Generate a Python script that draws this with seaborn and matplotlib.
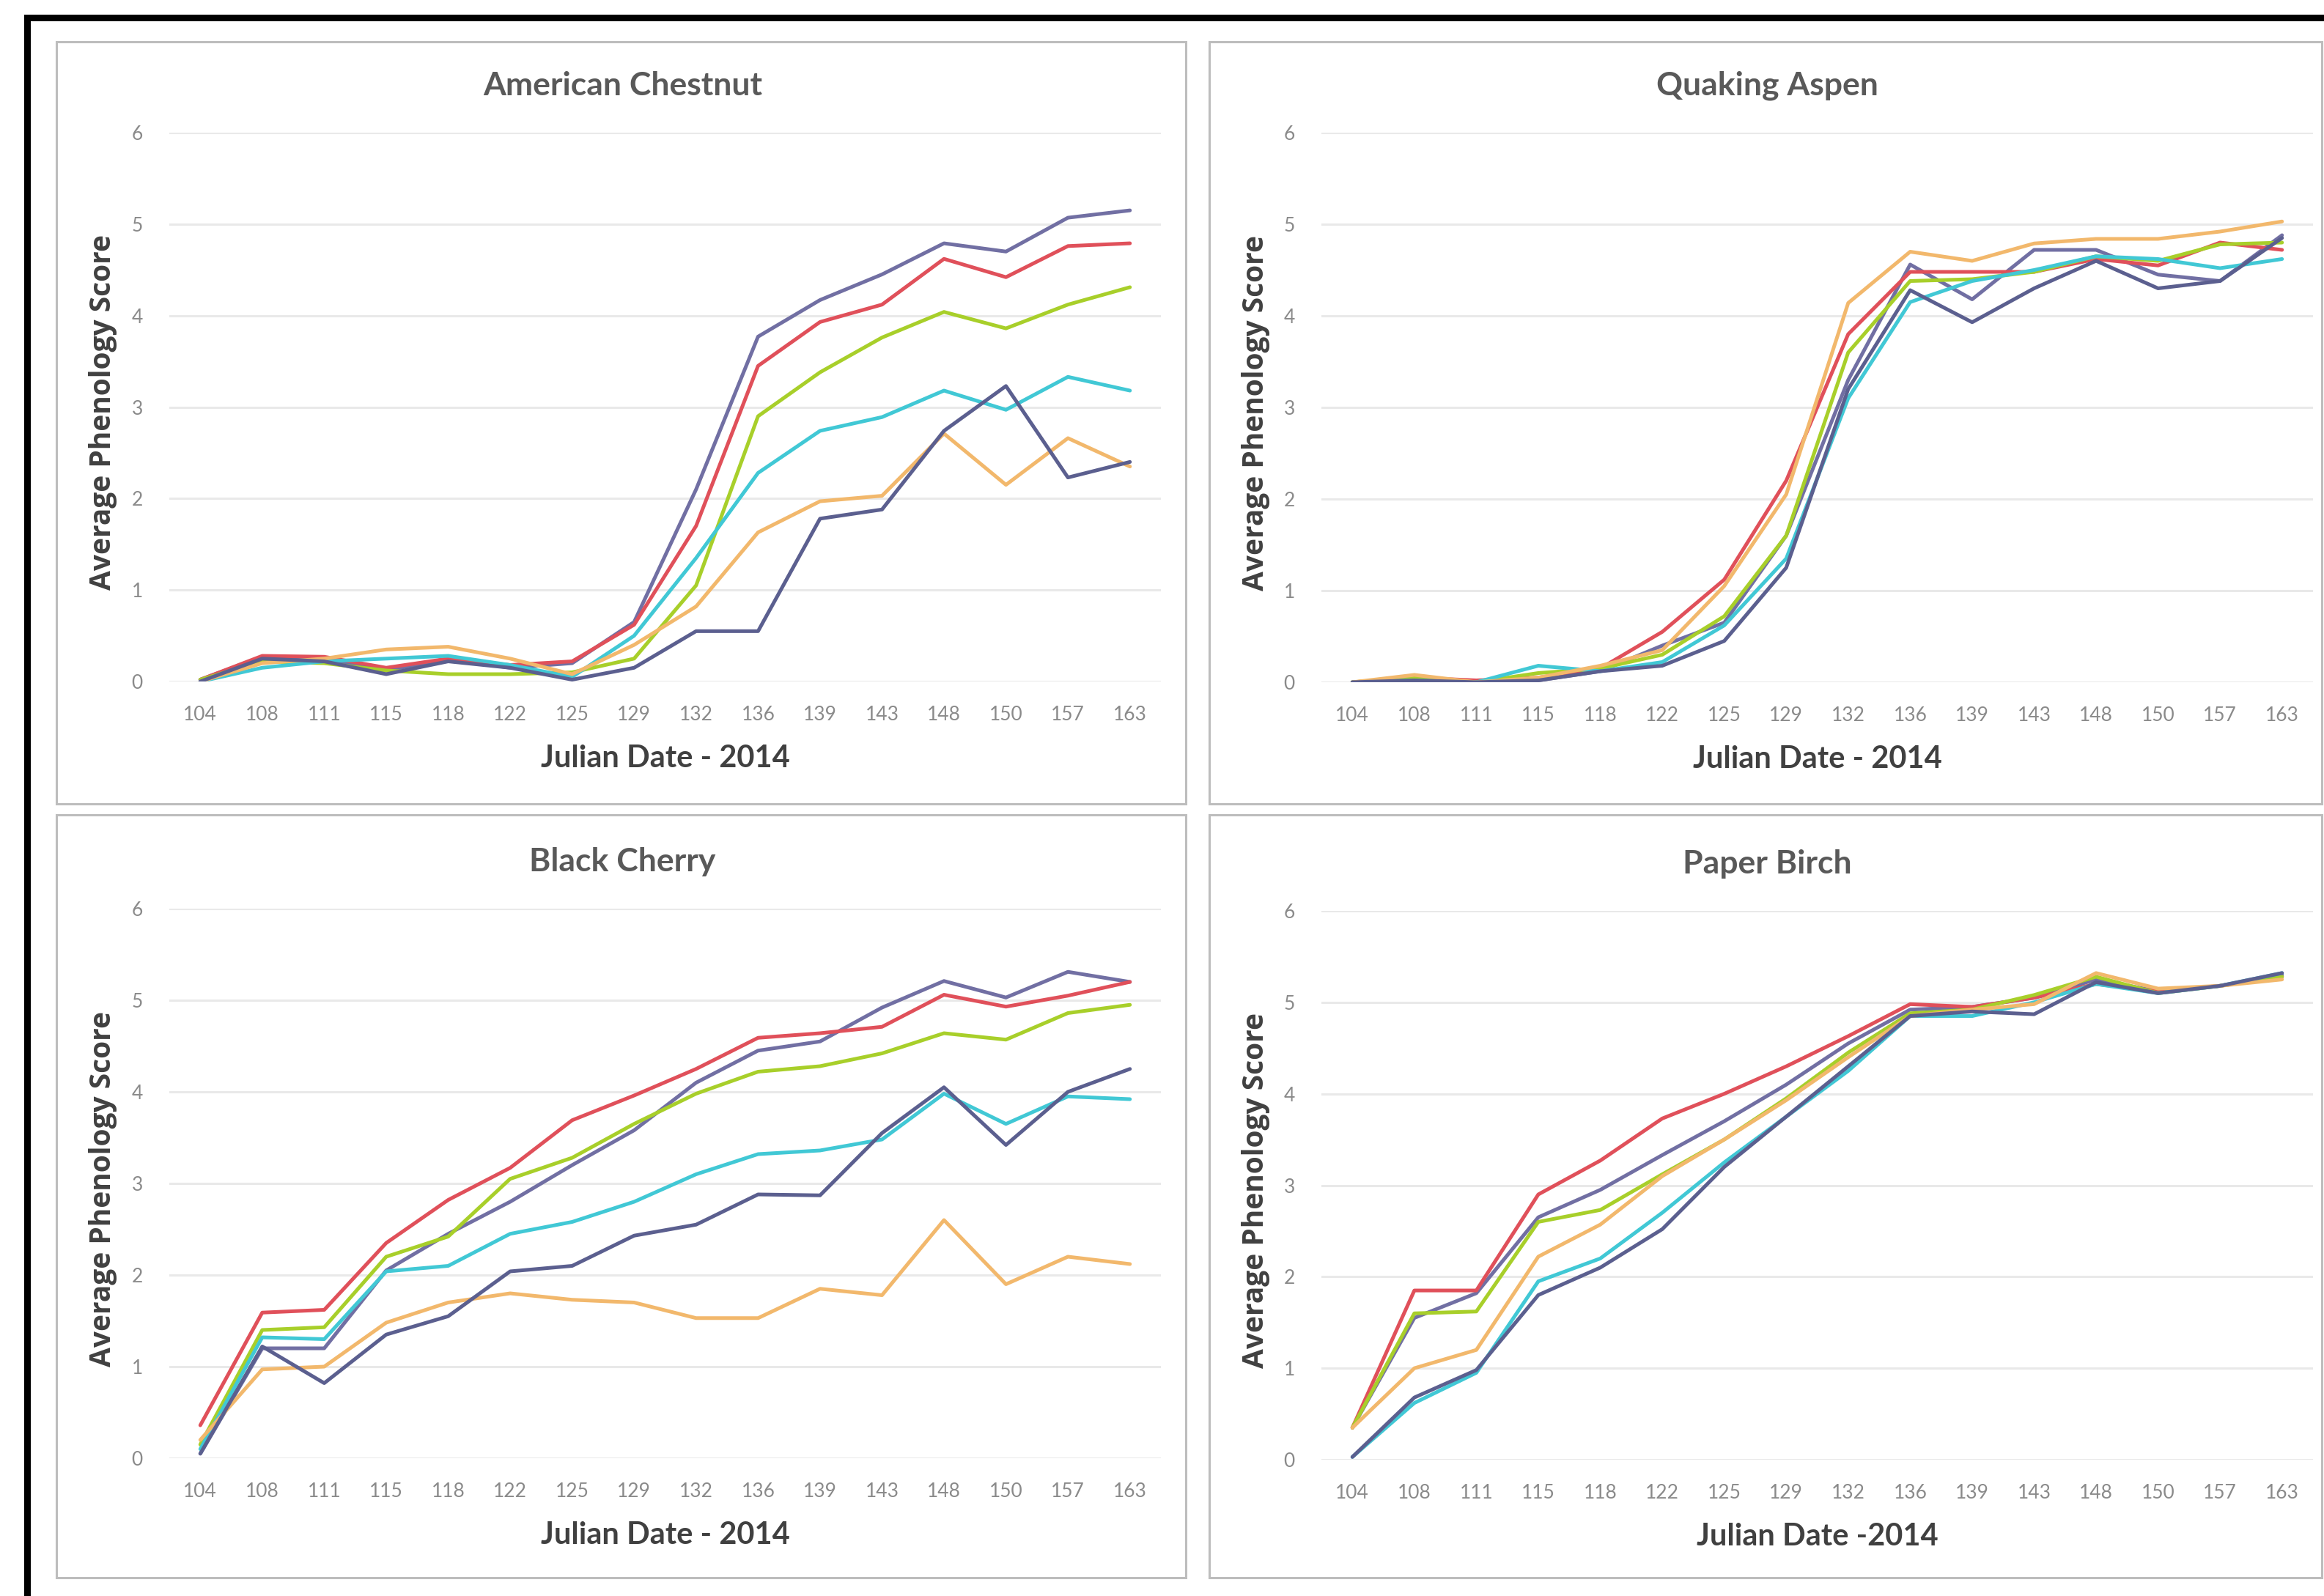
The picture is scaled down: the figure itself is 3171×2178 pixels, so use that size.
import numpy as np
import pandas as pd

import matplotlib
matplotlib.use('Agg')

import matplotlib.pyplot as plt
import seaborn as sns
from matplotlib.patches import Rectangle

# x categories (Julian day, 2014)
julian_days = ["104", "108", "111", "115", "118", "122", "125", "129",
               "132", "136", "139", "143", "148", "150", "157", "163"]

series_names = ["purple_a", "red", "green", "cyan", "orange", "purple_b"]
line_colors = ["#716fa3", "#e0505a", "#a8cf2a", "#41c8d5", "#f2b86c", "#5b5f8f"]

# American Chestnut
chestnut_purple_a = [0.02, 0.27, 0.25, 0.12, 0.25, 0.15, 0.20, 0.65, 2.10, 3.77, 4.17, 4.45, 4.79, 4.70, 5.07, 5.15]
chestnut_red = [0.02, 0.28, 0.27, 0.15, 0.25, 0.18, 0.22, 0.62, 1.70, 3.45, 3.93, 4.12, 4.62, 4.42, 4.76, 4.79]
chestnut_green = [0.02, 0.22, 0.20, 0.12, 0.08, 0.08, 0.10, 0.25, 1.05, 2.90, 3.38, 3.76, 4.04, 3.86, 4.12, 4.31]
chestnut_cyan = [0.00, 0.15, 0.22, 0.25, 0.28, 0.18, 0.05, 0.50, 1.35, 2.28, 2.74, 2.89, 3.18, 2.97, 3.33, 3.18]
chestnut_orange = [0.00, 0.20, 0.25, 0.35, 0.38, 0.25, 0.08, 0.40, 0.82, 1.63, 1.97, 2.03, 2.71, 2.15, 2.66, 2.35]
chestnut_purple_b = [0.00, 0.25, 0.22, 0.08, 0.22, 0.15, 0.02, 0.15, 0.55, 0.55, 1.78, 1.88, 2.74, 3.23, 2.23, 2.40]

# Quaking Aspen
aspen_purple_a = [0.00, 0.02, 0.00, 0.02, 0.12, 0.40, 0.65, 1.60, 3.30, 4.56, 4.18, 4.72, 4.72, 4.45, 4.38, 4.88]
aspen_red = [0.00, 0.05, 0.02, 0.05, 0.15, 0.55, 1.12, 2.20, 3.80, 4.48, 4.48, 4.48, 4.62, 4.55, 4.80, 4.72]
aspen_green = [0.00, 0.05, 0.00, 0.10, 0.15, 0.30, 0.72, 1.60, 3.60, 4.38, 4.40, 4.48, 4.65, 4.60, 4.78, 4.80]
aspen_cyan = [0.00, 0.02, 0.00, 0.18, 0.12, 0.22, 0.62, 1.35, 3.10, 4.15, 4.38, 4.50, 4.65, 4.62, 4.52, 4.62]
aspen_orange = [0.00, 0.08, 0.00, 0.05, 0.18, 0.35, 1.05, 2.05, 4.14, 4.70, 4.60, 4.79, 4.84, 4.84, 4.92, 5.03]
aspen_purple_b = [0.00, 0.02, 0.00, 0.02, 0.12, 0.18, 0.45, 1.25, 3.20, 4.28, 3.93, 4.30, 4.60, 4.30, 4.38, 4.85]

# Black Cherry
cherry_purple_a = [0.05, 1.20, 1.20, 2.05, 2.45, 2.80, 3.20, 3.58, 4.10, 4.45, 4.55, 4.92, 5.21, 5.03, 5.31, 5.20]
cherry_red = [0.36, 1.59, 1.62, 2.35, 2.82, 3.17, 3.69, 3.96, 4.25, 4.59, 4.64, 4.71, 5.06, 4.93, 5.05, 5.20]
cherry_green = [0.15, 1.40, 1.43, 2.20, 2.42, 3.05, 3.28, 3.65, 3.98, 4.22, 4.28, 4.42, 4.64, 4.57, 4.86, 4.95]
cherry_cyan = [0.10, 1.32, 1.30, 2.04, 2.10, 2.45, 2.58, 2.80, 3.10, 3.32, 3.36, 3.48, 3.98, 3.65, 3.95, 3.92]
cherry_orange = [0.20, 0.97, 1.00, 1.48, 1.70, 1.80, 1.73, 1.70, 1.53, 1.53, 1.85, 1.78, 2.60, 1.90, 2.20, 2.12]
cherry_purple_b = [0.05, 1.22, 0.82, 1.35, 1.55, 2.04, 2.10, 2.43, 2.55, 2.88, 2.87, 3.55, 4.05, 3.42, 4.00, 4.25]

# Paper Birch
birch_purple_a = [0.35, 1.55, 1.82, 2.65, 2.95, 3.33, 3.70, 4.10, 4.55, 4.92, 4.95, 5.05, 5.25, 5.12, 5.18, 5.30]
birch_red = [0.35, 1.85, 1.85, 2.90, 3.27, 3.73, 4.00, 4.30, 4.63, 4.98, 4.95, 5.05, 5.20, 5.12, 5.18, 5.28]
birch_green = [0.35, 1.60, 1.62, 2.60, 2.73, 3.12, 3.50, 3.95, 4.45, 4.88, 4.92, 5.08, 5.28, 5.10, 5.18, 5.28]
birch_cyan = [0.03, 0.62, 0.95, 1.95, 2.20, 2.70, 3.25, 3.75, 4.25, 4.85, 4.85, 5.00, 5.20, 5.10, 5.18, 5.32]
birch_orange = [0.35, 1.00, 1.20, 2.22, 2.57, 3.10, 3.50, 3.93, 4.40, 4.85, 4.92, 4.98, 5.32, 5.15, 5.18, 5.25]
birch_purple_b = [0.03, 0.68, 0.98, 1.80, 2.10, 2.52, 3.20, 3.75, 4.30, 4.85, 4.90, 4.87, 5.22, 5.10, 5.18, 5.32]

titles = ["American Chestnut", "Quaking Aspen", "Black Cherry", "Paper Birch"]
xlabels = ["Julian Date - 2014", "Julian Date - 2014", "Julian Date - 2014", "Julian Date -2014"]
panel_series = [
    [chestnut_purple_a, chestnut_red, chestnut_green, chestnut_cyan, chestnut_orange, chestnut_purple_b],
    [aspen_purple_a, aspen_red, aspen_green, aspen_cyan, aspen_orange, aspen_purple_b],
    [cherry_purple_a, cherry_red, cherry_green, cherry_cyan, cherry_orange, cherry_purple_b],
    [birch_purple_a, birch_red, birch_green, birch_cyan, birch_orange, birch_purple_b],
]

W, H = 3171, 2178
sns.set_theme(style="white")
plt.rcParams['font.family'] = ['Lato', 'DejaVu Sans']

fig = plt.figure(figsize=(W / 100, H / 100), dpi=100)
fig.patch.set_facecolor("white")

# pixel layout: (axes left, axes top, axes bottom, panel box)
layout = [
    (231, 181, 930, (77, 57, 1618, 1097)),
    (1803, 181, 931, (1650, 57, 3168, 1097)),
    (231, 1240, 1990, (77, 1112, 1618, 2153)),
    (1803, 1243, 1992, (1650, 1112, 3168, 2153)),
]
axes_w = 1353

palette = dict(zip(series_names, line_colors))

for i, (left, top, bottom, box) in enumerate(layout):
    # gray chart-area border
    bx0, by0, bx1, by1 = box
    fig.add_artist(Rectangle((bx0 / W, 1 - by1 / H), (bx1 - bx0) / W, (by1 - by0) / H,
                             transform=fig.transFigure, fill=False,
                             edgecolor="#bdbdbd", linewidth=2.2))

    ax = fig.add_axes([left / W, 1 - bottom / H, axes_w / W, (bottom - top) / H])
    df = pd.DataFrame({
        "pos": np.tile(np.arange(len(julian_days)), len(series_names)),
        "score": np.concatenate(panel_series[i]),
        "series": np.repeat(series_names, len(julian_days)),
    })
    sns.lineplot(data=df, x="pos", y="score", hue="series", palette=palette,
                 linewidth=3.6, legend=False, sort=False, ax=ax)

    ax.set_xlim(-0.5, len(julian_days) - 0.5)
    ax.set_ylim(0, 6)
    ax.set_yticks(range(0, 7))
    ax.set_xticks(range(len(julian_days)))
    ax.set_xticklabels(julian_days)
    ax.grid(axis="y", color="#e9e9e9", linewidth=2.2)
    ax.set_axisbelow(True)
    for s in ax.spines.values():
        s.set_visible(False)
    ax.tick_params(axis="both", length=0, labelsize=19, labelcolor="#8a8a8a")
    ax.tick_params(axis="x", pad=24)
    ax.tick_params(axis="y", pad=26)

    ax.set_xlabel(xlabels[i], fontsize=30, fontweight="bold", color="#404040")
    ax.xaxis.set_label_coords(0.5, -105 / (bottom - top))
    ax.xaxis.label.set_va("center")
    ax.set_ylabel("Average Phenology Score", fontsize=28, fontweight="bold",
                  color="#404040", family=["Open Sans", "DejaVu Sans"])
    ax.yaxis.set_label_coords(-90 / axes_w, 0.49)
    ax.yaxis.label.set_va("center")

    fig.text(((bx0 + bx1) / 2 + 2) / W, 1 - (top - 64) / H, titles[i],
             ha="center", va="center", fontsize=32, fontweight="bold", color="#595959")

# black outer frame (top and left edges)
fig.add_artist(Rectangle((33 / W, 1 - 29 / H), (W - 33) / W, 9 / H,
                         transform=fig.transFigure, color="black", linewidth=0))
fig.add_artist(Rectangle((33 / W, 0), 9 / W, (H - 20) / H,
                         transform=fig.transFigure, color="black", linewidth=0))

fig.savefig("out.png", dpi=100, facecolor="white")
plt.close(fig)
